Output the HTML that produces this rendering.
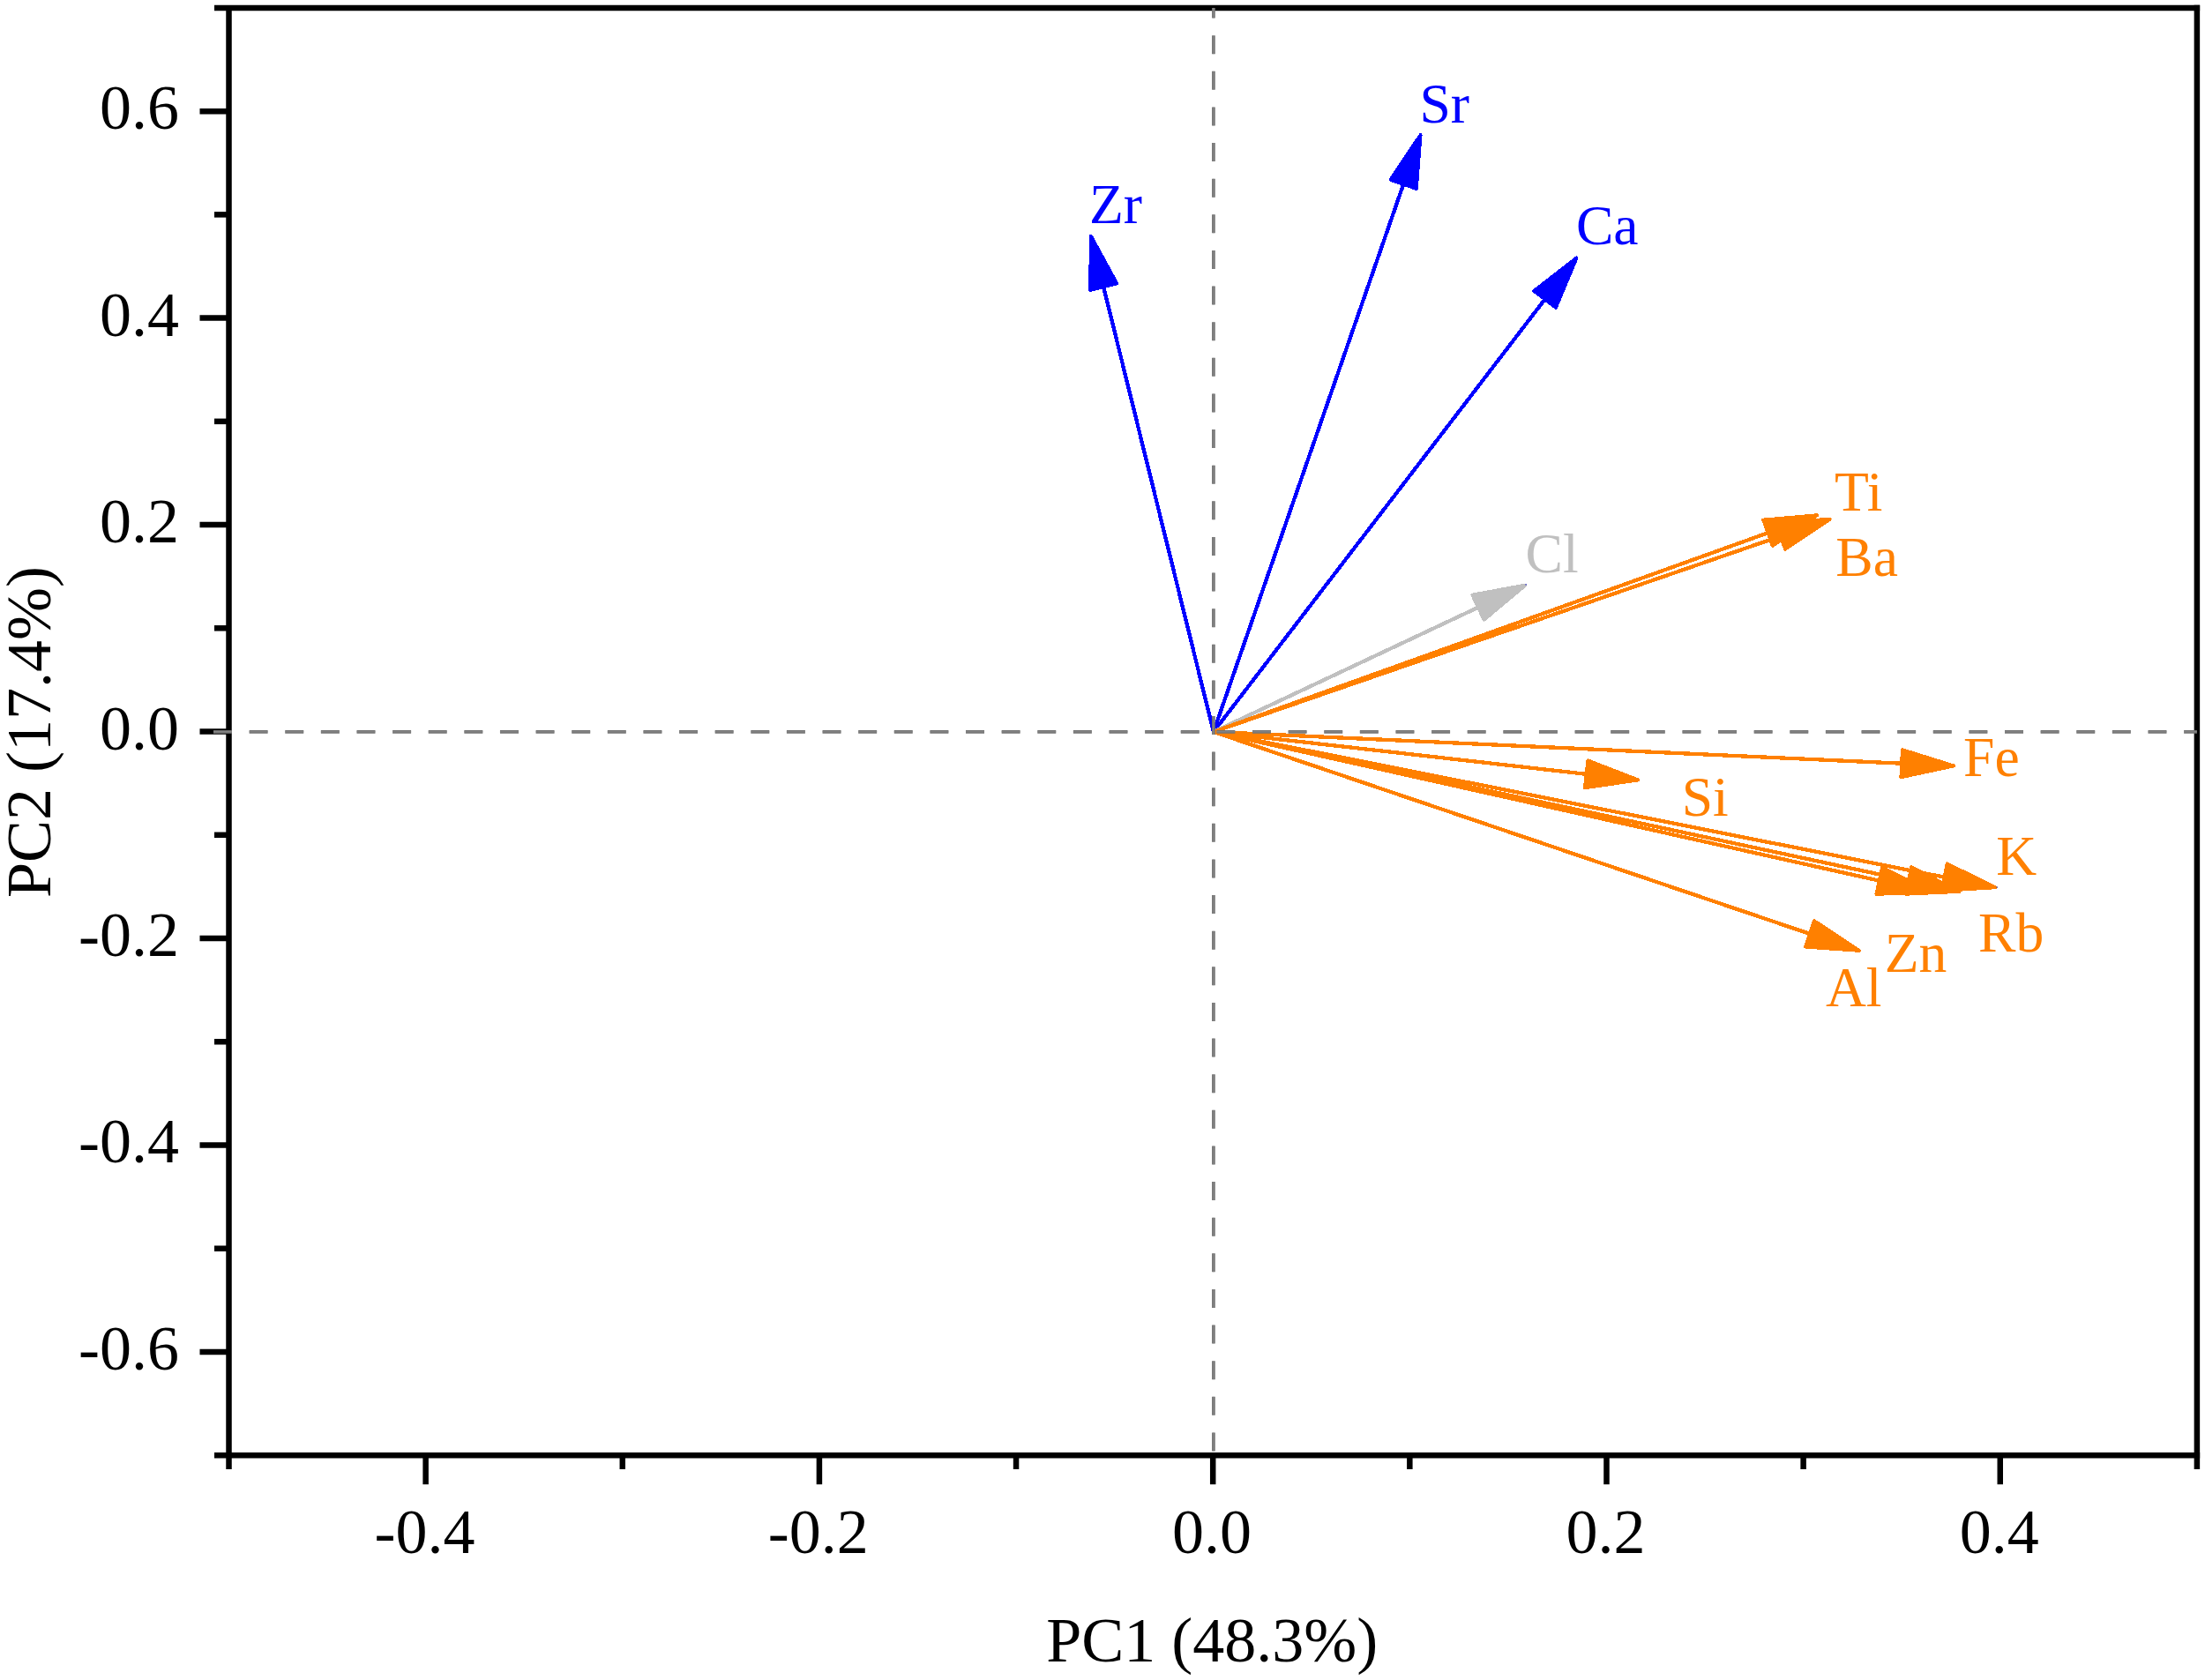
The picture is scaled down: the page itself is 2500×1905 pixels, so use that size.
<!DOCTYPE html>
<html lang="en"><head><meta charset="utf-8"><title>PCA loading plot</title>
<style>html,body{margin:0;padding:0;background:#fff;}body{width:2500px;height:1905px;overflow:hidden;}svg{display:block;}text{font-family:"Liberation Serif",serif;}</style></head><body>
<svg width="2500" height="1905" viewBox="0 0 2500 1905">
<rect x="0" y="0" width="2500" height="1905" fill="#fff"/>
<g stroke="#000" stroke-width="6.50" fill="none" stroke-linecap="butt">
<line x1="243.00" y1="8.90" x2="2494.15" y2="8.90"/>
<line x1="243.00" y1="1650.20" x2="2494.15" y2="1650.20"/>
<line x1="259.50" y1="8.90" x2="259.50" y2="1666.00"/>
<line x1="2490.90" y1="5.65" x2="2490.90" y2="1666.00"/>
<line x1="226.50" y1="1532.96" x2="259.50" y2="1532.96"/>
<line x1="243.00" y1="1415.73" x2="259.50" y2="1415.73"/>
<line x1="226.50" y1="1298.49" x2="259.50" y2="1298.49"/>
<line x1="243.00" y1="1181.26" x2="259.50" y2="1181.26"/>
<line x1="226.50" y1="1064.02" x2="259.50" y2="1064.02"/>
<line x1="243.00" y1="946.79" x2="259.50" y2="946.79"/>
<line x1="226.50" y1="829.55" x2="259.50" y2="829.55"/>
<line x1="243.00" y1="712.31" x2="259.50" y2="712.31"/>
<line x1="226.50" y1="595.08" x2="259.50" y2="595.08"/>
<line x1="243.00" y1="477.84" x2="259.50" y2="477.84"/>
<line x1="226.50" y1="360.61" x2="259.50" y2="360.61"/>
<line x1="243.00" y1="243.37" x2="259.50" y2="243.37"/>
<line x1="226.50" y1="126.14" x2="259.50" y2="126.14"/>
<line x1="482.64" y1="1650.20" x2="482.64" y2="1683.20"/>
<line x1="705.78" y1="1650.20" x2="705.78" y2="1666.00"/>
<line x1="928.92" y1="1650.20" x2="928.92" y2="1683.20"/>
<line x1="1152.06" y1="1650.20" x2="1152.06" y2="1666.00"/>
<line x1="1375.20" y1="1650.20" x2="1375.20" y2="1683.20"/>
<line x1="1598.34" y1="1650.20" x2="1598.34" y2="1666.00"/>
<line x1="1821.48" y1="1650.20" x2="1821.48" y2="1683.20"/>
<line x1="2044.62" y1="1650.20" x2="2044.62" y2="1666.00"/>
<line x1="2267.76" y1="1650.20" x2="2267.76" y2="1683.20"/>
</g>
<g font-size="72" fill="#000">
<text x="203" y="1552.96" text-anchor="end">-0.6</text>
<text x="203" y="1318.49" text-anchor="end">-0.4</text>
<text x="203" y="1084.02" text-anchor="end">-0.2</text>
<text x="203" y="849.55" text-anchor="end">0.0</text>
<text x="203" y="615.08" text-anchor="end">0.2</text>
<text x="203" y="380.61" text-anchor="end">0.4</text>
<text x="203" y="146.14" text-anchor="end">0.6</text>
<text x="481.54" y="1761.2" text-anchor="middle">-0.4</text>
<text x="927.82" y="1761.2" text-anchor="middle">-0.2</text>
<text x="1374.10" y="1761.2" text-anchor="middle">0.0</text>
<text x="1820.38" y="1761.2" text-anchor="middle">0.2</text>
<text x="2266.66" y="1761.2" text-anchor="middle">0.4</text>
<text x="1374.2" y="1884.3" text-anchor="middle">PC1 (48.3%)</text>
<text transform="translate(57.1 830) rotate(-90)" text-anchor="middle">PC2 (17.4%)</text>
</g>
<g stroke="#0000FF" fill="#0000FF" stroke-width="4.00" stroke-linejoin="round" shape-rendering="crispEdges">
<line x1="1375.90" y1="829.90" x2="1251.14" y2="325.22" stroke-width="4.30"/>
<polygon points="1236.98,267.94 1266.19,321.50 1236.09,328.94"/>
</g>
<g stroke="#0000FF" fill="#0000FF" stroke-width="4.00" stroke-linejoin="round" shape-rendering="crispEdges">
<line x1="1375.90" y1="829.90" x2="1591.22" y2="208.83" stroke-width="4.30"/>
<polygon points="1610.54,153.09 1605.86,213.91 1576.57,203.76"/>
</g>
<g stroke="#0000FF" fill="#0000FF" stroke-width="4.00" stroke-linejoin="round" shape-rendering="crispEdges">
<line x1="1375.90" y1="829.90" x2="1751.61" y2="339.33" stroke-width="4.30"/>
<polygon points="1787.48,292.49 1763.92,348.75 1739.30,329.90"/>
</g>
<g stroke="#C0C0C0" fill="#C0C0C0" stroke-width="4.00" stroke-linejoin="round" shape-rendering="crispEdges">
<line x1="1375.90" y1="829.90" x2="1676.01" y2="688.67" stroke-width="4.30"/>
<polygon points="1729.39,663.55 1682.61,702.70 1669.41,674.65"/>
</g>
<g stroke="#FF8000" fill="#FF8000" stroke-width="4.00" stroke-linejoin="round" shape-rendering="crispEdges">
<line x1="1375.90" y1="829.90" x2="2004.49" y2="604.21" stroke-width="4.30"/>
<polygon points="2060.02,584.28 2009.73,618.80 1999.25,589.62"/>
</g>
<g stroke="#FF8000" fill="#FF8000" stroke-width="4.00" stroke-linejoin="round" shape-rendering="crispEdges">
<line x1="1375.90" y1="829.90" x2="2018.94" y2="607.91" stroke-width="4.30"/>
<polygon points="2074.71,588.65 2024.00,622.56 2013.88,593.25"/>
</g>
<g stroke="#FF8000" fill="#FF8000" stroke-width="4.00" stroke-linejoin="round" shape-rendering="crispEdges">
<line x1="1375.90" y1="829.90" x2="2156.16" y2="865.70" stroke-width="4.30"/>
<polygon points="2215.10,868.41 2155.45,881.19 2156.87,850.22"/>
</g>
<g stroke="#FF8000" fill="#FF8000" stroke-width="4.00" stroke-linejoin="round" shape-rendering="crispEdges">
<line x1="1375.90" y1="829.90" x2="1798.69" y2="877.83" stroke-width="4.30"/>
<polygon points="1857.31,884.47 1796.94,893.23 1800.43,862.43"/>
</g>
<g stroke="#FF8000" fill="#FF8000" stroke-width="4.00" stroke-linejoin="round" shape-rendering="crispEdges">
<line x1="1375.90" y1="829.90" x2="2130.77" y2="998.69" stroke-width="4.30"/>
<polygon points="2188.35,1011.56 2127.39,1013.82 2134.15,983.56"/>
</g>
<g stroke="#FF8000" fill="#FF8000" stroke-width="4.00" stroke-linejoin="round" shape-rendering="crispEdges">
<line x1="1375.90" y1="829.90" x2="2163.85" y2="998.53" stroke-width="4.30"/>
<polygon points="2221.54,1010.88 2160.61,1013.69 2167.09,983.38"/>
</g>
<g stroke="#FF8000" fill="#FF8000" stroke-width="4.00" stroke-linejoin="round" shape-rendering="crispEdges">
<line x1="1375.90" y1="829.90" x2="2204.57" y2="994.70" stroke-width="4.30"/>
<polygon points="2262.44,1006.21 2201.55,1009.90 2207.60,979.50"/>
</g>
<g stroke="#FF8000" fill="#FF8000" stroke-width="4.00" stroke-linejoin="round" shape-rendering="crispEdges">
<line x1="1375.90" y1="829.90" x2="2052.02" y2="1058.93" stroke-width="4.30"/>
<polygon points="2107.91,1077.86 2047.05,1073.61 2057.00,1044.25"/>
</g>
<rect x="1729.4" y="662.2" width="1.5" height="1.3" fill="#3c3cc8"/>
<rect x="2263.6" y="1005.2" width="1.1" height="1.8" fill="#3c3c96"/>
<g stroke="#727272" stroke-dasharray="21 19.62" fill="none">
<line x1="1375.9" y1="8.90" x2="1375.9" y2="1650.20" stroke-width="3.7" stroke-dashoffset="9.3"/>
<line x1="242" y1="829.85" x2="2490.90" y2="829.85" stroke-width="3.8"/>
</g>
<g stroke="#8e8e8e" stroke-dasharray="21 19.62" fill="none" stroke-width="0.9">
<line x1="1375.9" y1="8.90" x2="1375.9" y2="1650.20" stroke-dashoffset="9.3"/>
<line x1="242" y1="829.85" x2="2490.90" y2="829.85"/>
</g>
<g font-size="63.6">
<text x="1234.90" y="253.20" fill="#0000FF">Zr</text>
<text x="1609.50" y="138.90" fill="#0000FF">Sr</text>
<text x="1786.90" y="277.10" fill="#0000FF">Ca</text>
<text x="1729.50" y="649.30" fill="#C0C0C0">Cl</text>
<text x="2080.10" y="579.00" fill="#FF8000">Ti</text>
<text x="2081.30" y="652.60" fill="#FF8000">Ba</text>
<text x="2226.10" y="880.20" fill="#FF8000">Fe</text>
<text x="1906.70" y="925.30" fill="#FF8000">Si</text>
<text x="2263.30" y="992.00" fill="#FF8000">K</text>
<text x="2243.10" y="1078.80" fill="#FF8000">Rb</text>
<text x="2136.70" y="1101.60" fill="#FF8000">Zn</text>
<text x="2069.90" y="1140.90" fill="#FF8000">Al</text>
</g>
</svg></body></html>
